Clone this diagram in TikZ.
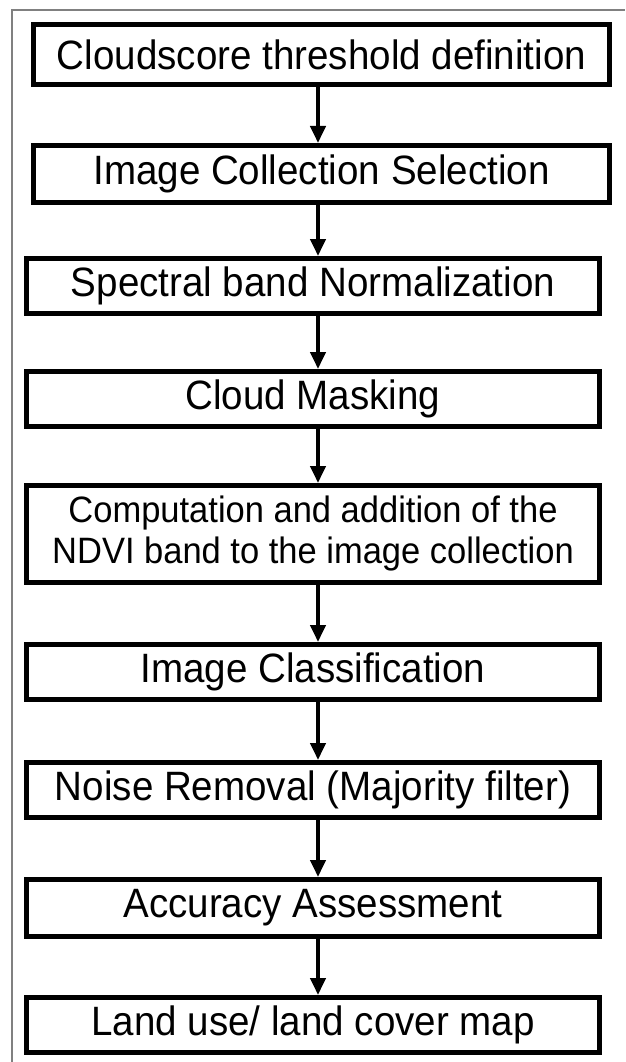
\documentclass[tikz,border=0pt]{standalone}
\usepackage{fontspec}
\setmainfont{Liberation Sans}[FakeStretch=0.94]
\usetikzlibrary{arrows.meta}
\tikzset{
  x=1pt, y=-1pt,
  stepbox/.style={draw=black, line width=5pt, fill=white, inner sep=0pt,
    font=\fontsize{41}{48}\selectfont, align=center},
  flow/.style={line width=4pt, -{Triangle[width=15pt,length=17pt]}},
  frame/.style={draw=gray, line width=1.5pt}
}
\begin{document}
\begin{tikzpicture}
\useasboundingbox (0,0) rectangle (625,1062);
\fill[white] (0,0) rectangle (625,1062);
\draw[frame] (12,1062) -- (12,10) -- (625,10);
\coordinate (ax) at (318,0);
\node[stepbox, minimum width=576pt, minimum height=60pt] (b1) at (321.5,54.5) {Cloudscore threshold definition};
\node[stepbox, minimum width=576pt, minimum height=57pt] (b2) at (321.5,174) {Image Collection Selection};
\node[stepbox, minimum width=573pt, minimum height=55pt] (b3) at (313,286) {Spectral band Normalization};
\node[stepbox, minimum width=573pt, minimum height=55pt] (b4) at (313,399) {Cloud Masking};
\node[stepbox, minimum width=573pt, minimum height=97pt, font=\fontsize{36.7}{41}\selectfont] (b5) at (313,534) {Computation and addition of the\\NDVI band to the image collection};
\node[stepbox, minimum width=573pt, minimum height=55pt] (b6) at (313,672) {Image Classification};
\node[stepbox, minimum width=573pt, minimum height=55pt] (b7) at (313,790) {Noise Removal (Majority filter)};
\node[stepbox, minimum width=573pt, minimum height=57pt] (b8) at (313,908) {Accuracy Assessment};
\node[stepbox, minimum width=573pt, minimum height=55pt] (b9) at (313,1025) {Land use/ land cover map};
\foreach \a/\b in {b1/b2,b2/b3,b3/b4,b4/b5,b5/b6,b6/b7,b7/b8,b8/b9}{
  \draw[flow] (\a.south -| ax) -- (\b.north -| ax);
}
\end{tikzpicture}
\end{document}
